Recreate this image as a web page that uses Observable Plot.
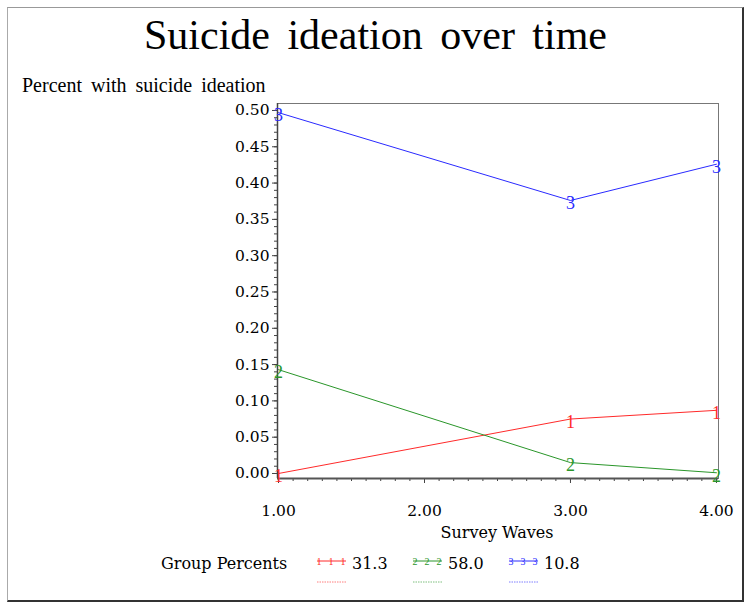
<!DOCTYPE html>
<html>
<head>
<meta charset="utf-8">
<script src="https://cdn.jsdelivr.net/npm/d3@7"></script>
<script src="https://cdn.jsdelivr.net/npm/@observablehq/plot@0.6"></script>
<style>
  html, body { margin: 0; padding: 0; background: #fff; }
  #wrap { position: relative; width: 751px; height: 609px; overflow: hidden; }
  #border { position: absolute; left: 7px; top: 7px; width: 734px; height: 592px;
    border-top: 1px solid #999; border-left: 1px solid #aaa; border-right: 2px solid #333; border-bottom: 2px solid #333; }
  #title { position: absolute; left: 0; width: 751px; top: 11px; text-align: center;
    font-family: "Liberation Serif", serif; font-size: 42px; word-spacing: 7px; color: #000; }
  #ylabel { position: absolute; left: 22px; top: 74px; font-family: "Liberation Serif", serif; font-size: 20px; word-spacing: 4px; color: #000; }
  #xlabel { position: absolute; left: 397px; width: 200px; text-align: center; top: 523px;
    font-family: "DejaVu Serif", serif; font-size: 16px; color: #000; }
  #chart { position: absolute; left: 0; top: 90px; }
  #legend { position: absolute; left: 0; top: 548px; }
</style>
</head>
<body>
<div id="wrap">
  <div id="border"></div>
  <div id="title">Suicide ideation over time</div>
  <div id="ylabel">Percent with suicide ideation</div>
  <div id="chart"></div>
  <div id="xlabel">Survey Waves</div>
  <div id="legend"></div>
</div>
<script>
// Data
const waves = [1, 3, 4];
const groups = ["1", "2", "3"];
const group1 = [0.000, 0.075, 0.087];
const group2 = [0.143, 0.015, 0.001];
const group3 = [0.497, 0.376, 0.426];
const groupPercents = ["31.3", "58.0", "10.8"];
const colors = ["#ff2a2a", "#2a962a", "#2a2aff"];
const yTicks = [0, 0.05, 0.10, 0.15, 0.20, 0.25, 0.30, 0.35, 0.40, 0.45, 0.50];
const xTicks = [1, 2, 3, 4];

const series = [group1, group2, group3];
const data = [];
series.forEach((vals, gi) => vals.forEach((v, i) => data.push({wave: waves[i], value: v, group: groups[gi]})));

const yMinor = d3.range(0, 51).map(i => i / 100);
const xMinor = d3.range(10, 41).map(i => i / 10);

const chart = Plot.plot({
  width: 751,
  height: 455,
  marginLeft: 277,
  marginRight: 33,
  marginTop: 13,
  marginBottom: 67,
  style: {fontFamily: "DejaVu Serif, serif", fontSize: "15px", color: "#000", background: "transparent"},
  x: {domain: [0.993, 4.014]},
  y: {domain: [-0.0069, 0.5096]},
  color: {domain: groups, range: colors},
  marks: [
    Plot.frame({stroke: "#777", strokeWidth: 1}),
    Plot.axisY(yMinor, {tickSize: 3, tickFormat: () => "", stroke: "#444", label: null}),
    Plot.axisY(yTicks, {tickSize: 5, tickPadding: 3, tickFormat: ".2f", stroke: "#444", fontSize: 15.5, label: null}),
    Plot.axisX(xMinor, {tickSize: 3, tickFormat: () => "", stroke: "#444", label: null}),
    Plot.axisX(xTicks, {tickSize: 5, tickPadding: 21, tickFormat: ".2f", stroke: "#444", fontSize: 15.5, label: null}),
    Plot.ruleX([0.993], {stroke: "#444", strokeWidth: 1.5}),
    Plot.ruleY([-0.0069], {stroke: "#555", strokeWidth: 2}),
    Plot.line(data, {x: "wave", y: "value", z: "group", stroke: "group", strokeWidth: 1}),
    Plot.text(data, {x: "wave", y: "value", text: "group", fill: "group", dy: 3,
      fontFamily: "Liberation Serif, serif", fontSize: 18})
  ]
});
document.getElementById("chart").appendChild(chart);

// Legend
const ns = "http://www.w3.org/2000/svg";
const leg = document.createElementNS(ns, "svg");
leg.setAttribute("width", 751);
leg.setAttribute("height", 50);
const mk = (tag, attrs, text) => {
  const el = document.createElementNS(ns, tag);
  for (const k in attrs) el.setAttribute(k, attrs[k]);
  if (text != null) el.textContent = text;
  leg.appendChild(el);
  return el;
};
mk("text", {x: 161, y: 21, "font-family": "DejaVu Serif, serif", "font-size": 16, fill: "#000"}, "Group Percents");
groups.forEach((g, i) => {
  const x0 = 317 + i * 96;
  mk("line", {x1: x0, x2: x0 + 29, y1: 13, y2: 13, stroke: colors[i], "stroke-width": 1});
  [0, 1, 2].forEach(j => mk("text", {x: x0 + 2 + j * 12, y: 17, "font-family": "Liberation Serif, serif",
    "font-size": 10, fill: colors[i], "text-anchor": "middle"}, g));
  mk("line", {x1: x0, x2: x0 + 29, y1: 34, y2: 34, stroke: colors[i], "stroke-width": 1, "stroke-dasharray": "1.5,1", opacity: 0.6});
  mk("text", {x: x0 + 35, y: 21, "font-family": "DejaVu Serif, serif", "font-size": 16, fill: "#000"}, groupPercents[i]);
});
document.getElementById("legend").appendChild(leg);
</script>
</body>
</html>
